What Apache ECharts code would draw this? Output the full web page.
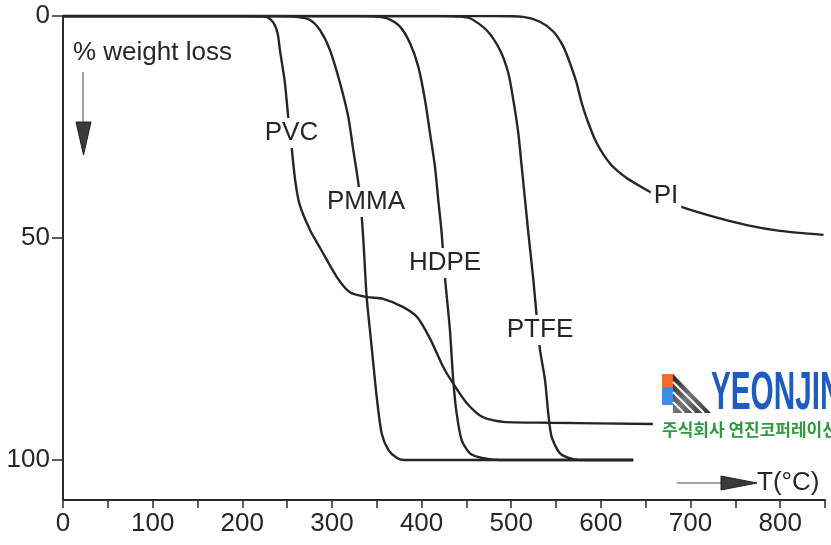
<!DOCTYPE html>
<html>
<head>
<meta charset="utf-8">
<script src="https://cdn.jsdelivr.net/npm/echarts@6/dist/echarts.min.js"></script>
<style>
  html, body { margin: 0; padding: 0; background: #fff; }
  #chart { width: 831px; height: 545px; }
</style>
</head>
<body>
<div id="chart"></div>
<script>
// Temperature axis (°C): ticks every 50, labels every 100
const tempLabels = [0, 100, 200, 300, 400, 500, 600, 700, 800];
// Weight-loss axis (%), growing downward
const lossTicks = [0, 50, 100];

// TGA curves: [temperature °C, % weight loss]
const pvc = [[0, 0], [200, 0], [227, 0.2], [235, 1.6], [239.5, 4], [242, 7.7], [247.5, 15], [251, 22.3], [255, 29.5], [259, 37], [264, 42.5], [275.5, 48.2], [287, 52.3], [305.5, 58.8], [320, 62.2], [339, 63.3], [357, 63.7], [379, 65.5], [395, 67.8], [409, 72.5], [424, 79], [435, 82.7], [450.5, 87.2], [468, 90.3], [491, 91.4], [543, 91.6], [658, 91.9]];
const pmma = [[0, 0], [240, 0], [260.7, 0.2], [275.5, 0.9], [286.7, 3.2], [297.8, 7.7], [309, 15.1], [318.2, 22.7], [323.8, 30.2], [329.4, 37.6], [333.2, 45.2], [335.5, 52], [338.7, 63.2], [344.3, 74.5], [349.9, 85.7], [355.5, 94], [362.9, 97.7], [372.2, 99.5], [379.6, 100], [636, 100]];
const hdpe = [[0, 0], [330, 0], [348, 0.1], [361, 0.5], [375.9, 2.4], [387, 6.1], [396.3, 11.4], [403.8, 18.9], [409.4, 26.4], [414.9, 33.9], [418.6, 41.4], [422.4, 48.9], [426, 58.7], [431.6, 70.7], [435.3, 82], [439.1, 89.5], [444.7, 95.5], [454, 98.5], [468.8, 99.6], [487.5, 100], [636, 100]];
const ptfe = [[0, 0], [420, 0], [439, 0.1], [454, 0.5], [472.6, 3.2], [487.5, 7.7], [496.8, 12.9], [502.3, 18.9], [507.9, 26.4], [511.7, 34], [515.4, 41.4], [519.1, 48.9], [524.7, 59.5], [528.4, 67.7], [532.1, 75.2], [537.7, 82], [541.3, 89.5], [545.1, 94.8], [554.4, 98.5], [569.2, 99.8], [584.2, 100], [636, 100]];
const pi = [[0, 0], [480, 0], [513.4, 0.2], [532, 1.3], [546.9, 3.5], [558.1, 6.9], [565.5, 10.6], [573, 15.1], [578.6, 19.6], [586, 24.1], [595.3, 28.6], [610.2, 33.2], [628.8, 36.5], [651.1, 39.2], [669, 41.2], [688.2, 42.9], [725.4, 45.2], [762.6, 47.1], [799.8, 48.4], [848.3, 49.3]];

const polymerNames = ['PVC', 'PMMA', 'HDPE', 'PTFE', 'PI'];
const polymerCurves = [pvc, pmma, hdpe, ptfe, pi];

const FONT = "'Liberation Sans', Arial, Helvetica, sans-serif";
const INK = '#262626';

const chart = echarts.init(document.getElementById('chart'), null, { renderer: 'canvas' });

// Curve name tags sit on white patches that interrupt each line
const curveTags = [
  { text: 'PVC',  x: 291.5, y: 133 },
  { text: 'PMMA', x: 366,   y: 202 },
  { text: 'HDPE', x: 445,   y: 263 },
  { text: 'PTFE', x: 540,   y: 330 },
  { text: 'PI',   x: 666,   y: 196 }
];

const graphics = [];
curveTags.forEach(t => {
  graphics.push({
    type: 'text', x: t.x, y: t.y, z: 100,
    style: {
      text: t.text, fill: INK, font: '26px ' + FONT,
      align: 'center', verticalAlign: 'middle',
      backgroundColor: '#fff', padding: [2, 3]
    }
  });
});

// Axis captions with their arrows
graphics.push(
  { type: 'text', x: 73, y: 53, z: 100,
    style: { text: '% weight loss', fill: INK, font: '26px ' + FONT, align: 'left', verticalAlign: 'middle' } },
  { type: 'line', z: 100, shape: { x1: 83, y1: 72, x2: 83, y2: 150 },
    style: { stroke: '#444', lineWidth: 1 } },
  { type: 'polygon', z: 100, shape: { points: [[76, 122], [91, 122], [83.5, 155]] },
    style: { fill: '#3a3a3a', stroke: '#222', lineWidth: 1 } },
  { type: 'line', z: 100, shape: { x1: 677, y1: 483, x2: 750, y2: 483 },
    style: { stroke: '#444', lineWidth: 1 } },
  { type: 'polygon', z: 100, shape: { points: [[721, 476], [757, 483], [721, 490]] },
    style: { fill: '#3a3a3a', stroke: '#222', lineWidth: 1 } },
  { type: 'text', x: 757, y: 483, z: 100,
    style: { text: 'T(°C)', fill: INK, font: '26px ' + FONT, align: 'left', verticalAlign: 'middle' } }
);

// Company logo block at the right edge
graphics.push(
  { type: 'rect', z: 100, shape: { x: 662, y: 374, width: 11, height: 13 }, style: { fill: '#f26b2d' } },
  { type: 'rect', z: 100, shape: { x: 662, y: 387, width: 11, height: 18 }, style: { fill: '#3d8fe3' } },
  { type: 'polygon', z: 100, shape: { points: [[673, 374], [711, 413], [673, 413]] },
    style: { fill: new echarts.graphic.LinearGradient(0, 0, 1, 1, [
      { offset: 0, color: '#222' }, { offset: 0.5, color: '#777' }, { offset: 1, color: '#333' }]) } },
  { type: 'line', z: 101, shape: { x1: 673, y1: 382, x2: 704, y2: 413 }, style: { stroke: '#fff', lineWidth: 2 } },
  { type: 'line', z: 101, shape: { x1: 673, y1: 392, x2: 694, y2: 413 }, style: { stroke: '#fff', lineWidth: 2 } },
  { type: 'line', z: 101, shape: { x1: 673, y1: 402, x2: 684, y2: 413 }, style: { stroke: '#fff', lineWidth: 2 } },
  { type: 'text', x: 711, y: 394, z: 100, scaleX: 0.55,
    style: { text: 'YEONJIN', fill: '#1f5cc0', font: 'bold 54px ' + FONT, align: 'left', verticalAlign: 'middle' } },
  { type: 'text', x: 662, y: 430, z: 100,
    style: { text: '주식회사 연진코퍼레이션', fill: '#2e9a3e', font: "bold 17px 'Noto Sans CJK KR', sans-serif", align: 'left', verticalAlign: 'middle' } }
);

const series = polymerCurves.map((d, i) => ({
  name: polymerNames[i],
  type: 'line',
  data: d,
  smooth: 0.25,
  showSymbol: false,
  symbol: 'none',
  lineStyle: { color: INK, width: 2.4 },
  z: 3
}));

chart.setOption({
  animation: false,
  backgroundColor: '#fff',
  grid: { left: 63, right: 6, top: 16, bottom: 45, containLabel: false, outerBoundsMode: 'none' },
  xAxis: {
    type: 'value', position: 'bottom', min: 0, max: 850, interval: 50,
    axisLine: { show: true, onZero: false, lineStyle: { color: '#2a2a2a', width: 2 } },
    axisTick: { show: true, inside: false, length: 8, lineStyle: { color: '#2a2a2a', width: 1.5 } },
    axisLabel: { customValues: tempLabels, margin: 11, color: INK, fontSize: 26, fontFamily: FONT },
    splitLine: { show: false }
  },
  yAxis: {
    type: 'value', position: 'left', inverse: true, min: 0, max: 109, interval: 50,
    axisLine: { show: true, onZero: false, lineStyle: { color: '#2a2a2a', width: 2 } },
    axisTick: { show: true, inside: false, length: 11, customValues: lossTicks, lineStyle: { color: '#2a2a2a', width: 1.5 } },
    axisLabel: { customValues: lossTicks, margin: 13, color: INK, fontSize: 26, fontFamily: FONT },
    splitLine: { show: false }
  },
  series: series,
  graphic: { elements: graphics }
});
</script>
</body>
</html>
